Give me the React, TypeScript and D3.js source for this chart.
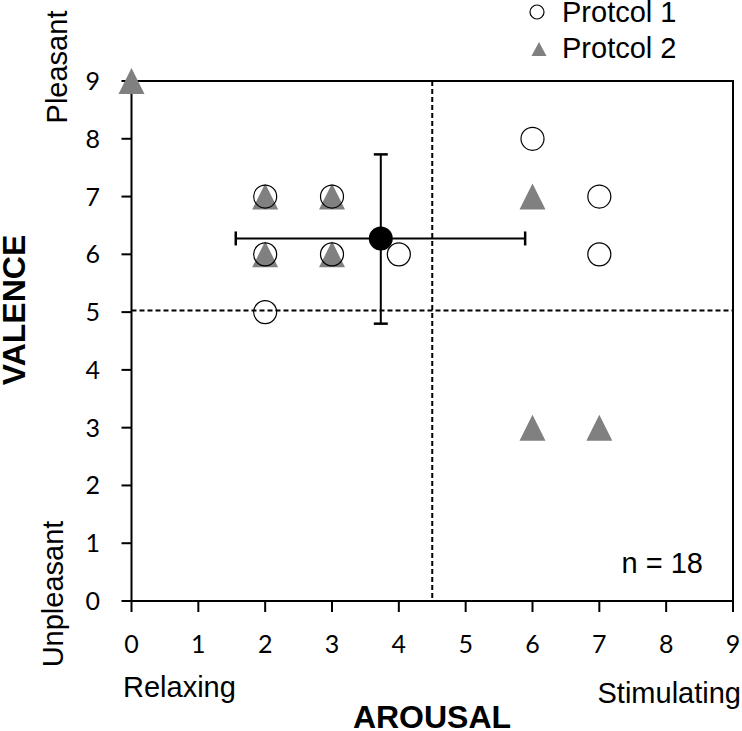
import React from "react";
import * as d3 from "d3";

const xTicks = [0, 1, 2, 3, 4, 5, 6, 7, 8, 9];
const yTicks = [0, 1, 2, 3, 4, 5, 6, 7, 8, 9];

const protocol1X = [2, 3, 2, 3, 2, 4, 6, 7, 7];
const protocol1Y = [7, 7, 6, 6, 5, 6, 8, 7, 6];

const protocol2X = [0, 2, 3, 2, 3, 6, 6, 7];
const protocol2Y = [9, 7, 7, 6, 6, 7, 3, 3];

const meanArousal = [3.73];
const meanValence = [6.275];
const arousalErr = [1.56, 5.89];
const valenceErr = [4.8, 7.73];

const arousalDivider = [4.5];
const valenceDivider = [5.03];

const legendLabels = ["Protcol 1", "Protcol 2"];
const nLabel = "n = 18";

const W = 742;
const H = 731;
const left = 131.5;
const right = 733;
const top = 81;
const bottom = 601;

function triPath(w: number, h: number) {
  const p = d3.path();
  p.moveTo(0, -h / 2);
  p.lineTo(w / 2, h / 2);
  p.lineTo(-w / 2, h / 2);
  p.closePath();
  return p.toString();
}

export default function App() {
  const x = d3.scaleLinear().domain([0, 9]).range([left, right]);
  const y = d3.scaleLinear().domain([0, 9]).range([bottom, top]);
  const tri = triPath(26, 26);
  const triSmall = triPath(15, 14);
  const arial = "'Liberation Sans', Arial, sans-serif";
  const tickFont = "Lato, 'Open Sans', sans-serif";
  const mx = x(meanArousal[0]);
  const my = y(meanValence[0]);
  return (
    <svg
      width={W}
      height={H}
      viewBox={`0 0 ${W} ${H}`}
      style={{ position: "absolute", left: 0, top: 0, background: "#fff" }}
    >
      <rect x={0} y={0} width={W} height={H} fill="#fff" />
      {/* dashed dividers */}
      <line
        x1={x(arousalDivider[0])}
        x2={x(arousalDivider[0])}
        y1={top}
        y2={bottom}
        stroke="#000"
        strokeWidth={2}
        strokeDasharray="5,3"
      />
      <line
        x1={left}
        x2={right}
        y1={y(valenceDivider[0])}
        y2={y(valenceDivider[0])}
        stroke="#000"
        strokeWidth={2}
        strokeDasharray="5,3"
      />
      {/* frame */}
      <rect
        x={left}
        y={top}
        width={right - left}
        height={bottom - top}
        fill="none"
        stroke="#000"
        strokeWidth={2}
      />
      {/* ticks */}
      {xTicks.map((t) => (
        <g key={"xt" + t}>
          <line x1={x(t)} x2={x(t)} y1={bottom} y2={bottom + 11} stroke="#000" strokeWidth={2} />
          <text x={x(t)} y={653} textAnchor="middle" fontFamily={tickFont} fontSize={25} fill="#000">
            {t}
          </text>
        </g>
      ))}
      {yTicks.map((t) => (
        <g key={"yt" + t}>
          <line x1={left - 10} x2={left} y1={y(t)} y2={y(t)} stroke="#000" strokeWidth={2} />
          <text
            x={100}
            y={y(t)}
            dy="0.36em"
            textAnchor="end"
            fontFamily={tickFont}
            fontSize={25}
            fill="#000"
          >
            {t}
          </text>
        </g>
      ))}
      {/* protocol 2 triangles */}
      {protocol2X.map((v, i) => (
        <path
          key={"p2" + i}
          d={tri}
          transform={`translate(${x(v)},${y(protocol2Y[i])})`}
          fill="#808080"
        />
      ))}
      {/* protocol 1 circles */}
      {protocol1X.map((v, i) => (
        <circle
          key={"p1" + i}
          cx={x(v)}
          cy={y(protocol1Y[i])}
          r={11.5}
          fill="none"
          stroke="#000"
          strokeWidth={1.2}
        />
      ))}
      {/* error bars */}
      <line x1={x(arousalErr[0])} x2={x(arousalErr[1])} y1={my} y2={my} stroke="#000" strokeWidth={2} />
      <line x1={x(arousalErr[0])} x2={x(arousalErr[0])} y1={my - 7} y2={my + 7} stroke="#000" strokeWidth={2.5} />
      <line x1={x(arousalErr[1])} x2={x(arousalErr[1])} y1={my - 7} y2={my + 7} stroke="#000" strokeWidth={2.5} />
      <line x1={mx} x2={mx} y1={y(valenceErr[0])} y2={y(valenceErr[1])} stroke="#000" strokeWidth={2} />
      <line x1={mx - 7} x2={mx + 7} y1={y(valenceErr[0])} y2={y(valenceErr[0])} stroke="#000" strokeWidth={2.5} />
      <line x1={mx - 7} x2={mx + 7} y1={y(valenceErr[1])} y2={y(valenceErr[1])} stroke="#000" strokeWidth={2.5} />
      <circle cx={mx} cy={my} r={12} fill="#000" />
      {/* legend */}
      <circle cx={537} cy={12} r={7} fill="none" stroke="#000" strokeWidth={1.2} />
      <text x={562} y={22} fontFamily={arial} fontSize={29} fill="#000">
        {legendLabels[0]}
      </text>
      <path d={triSmall} transform="translate(539,49)" fill="#808080" />
      <text x={562} y={58} fontFamily={arial} fontSize={29} fill="#000">
        {legendLabels[1]}
      </text>
      {/* n label */}
      <text x={703} y={573} textAnchor="end" fontFamily={arial} fontSize={29} fill="#000">
        {nLabel}
      </text>
      {/* quadrant labels */}
      <text x={123} y={697} fontFamily={arial} fontSize={29} fill="#000">
        Relaxing
      </text>
      <text x={741} y={703} textAnchor="end" fontFamily={arial} fontSize={29} fill="#000">
        Stimulating
      </text>
      <text
        transform="translate(67,67) rotate(-90)"
        textAnchor="middle"
        fontFamily={arial}
        fontSize={29}
        fill="#000"
      >
        Pleasant
      </text>
      <text
        transform="translate(63,594) rotate(-90)"
        textAnchor="middle"
        fontFamily={arial}
        fontSize={29}
        fill="#000"
      >
        Unpleasant
      </text>
      {/* axis titles */}
      <text
        x={432}
        y={728}
        textAnchor="middle"
        fontFamily={arial}
        fontWeight="bold"
        fontSize={32}
        fill="#000"
      >
        AROUSAL
      </text>
      <text
        transform="translate(25,310) rotate(-90)"
        textAnchor="middle"
        fontFamily={arial}
        fontWeight="bold"
        fontSize={32}
        fill="#000"
      >
        VALENCE
      </text>
    </svg>
  );
}
